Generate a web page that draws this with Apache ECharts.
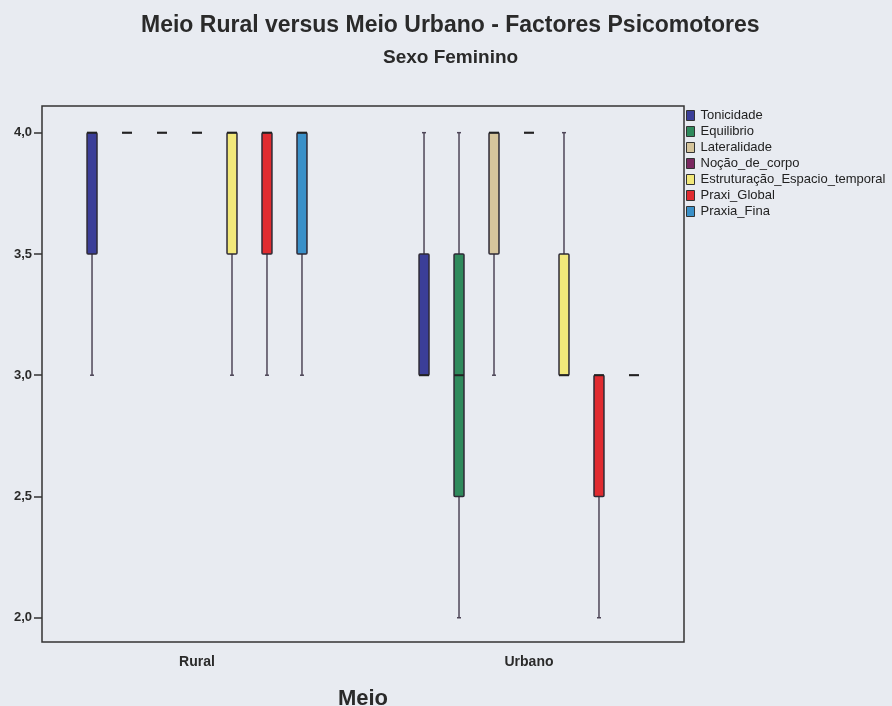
<!DOCTYPE html>
<html>
<head>
<meta charset="utf-8">
<script src="https://cdn.jsdelivr.net/npm/echarts@6/dist/echarts.min.js"></script>
<style>
	html, body { margin: 0; padding: 0; background: #e8ebf1; }
	#main { width: 892px; height: 706px; }
</style>
</head>
<body>
<div id="main"></div>
<script>
// categorias do eixo x
var meios = ['Rural', 'Urbano'];
// factores (series)
var factores = ['Tonicidade', 'Equilibrio', 'Lateralidade', 'Noção_de_corpo',
	'Estruturação_Espacio_temporal', 'Praxi_Global', 'Praxia_Fina'];
var cores = ['#3b3e98', '#2f8a5c', '#d6c59c', '#7a2860', '#f2e87a', '#e02b30', '#3a90c8'];
// [min, Q1, mediana, Q3, max] por meio
var tonicidade = [[3, 3.5, 4, 4, 4], [3, 3, 3, 3.5, 4]];
var equilibrio = [[4, 4, 4, 4, 4], [2, 2.5, 3, 3.5, 4]];
var lateralidade = [[4, 4, 4, 4, 4], [3, 3.5, 4, 4, 4]];
var nocaoCorpo = [[4, 4, 4, 4, 4], [4, 4, 4, 4, 4]];
var estruturacao = [[3, 3.5, 4, 4, 4], [3, 3, 3, 3.5, 4]];
var praxiGlobal = [[3, 3.5, 4, 4, 4], [2, 2.5, 3, 3, 3]];
var praxiaFina = [[3, 3.5, 4, 4, 4], [3, 3, 3, 3, 3]];
var dados = [tonicidade, equilibrio, lateralidade, nocaoCorpo, estruturacao, praxiGlobal, praxiaFina];
// marcas do eixo y
var yTicks = [2.0, 2.5, 3.0, 3.5, 4.0];

var myChart = echarts.init(document.getElementById('main'));

//desenha uma caixa (boxplot) deslocada conforme o indice da serie
function caixa(idx) {
	return function (params, api) {
		var cat = api.value(0);
		var band = api.size([1, 0])[0];
		var x = api.coord([cat, 0])[0] + (idx - 3) * band * 0.1054;
		var w = band * 0.03;
		var yMin = api.coord([cat, api.value(1)])[1];
		var yQ1 = api.coord([cat, api.value(2)])[1];
		var yMed = api.coord([cat, api.value(3)])[1];
		var yQ3 = api.coord([cat, api.value(4)])[1];
		var yMax = api.coord([cat, api.value(5)])[1];
		var risco = { stroke: '#4e4658', lineWidth: 1.5 };
		var filhos = [];
		if (yMax < yQ3) {
			filhos.push({ type: 'line', shape: { x1: x, y1: yQ3, x2: x, y2: yMax }, style: risco });
			filhos.push({ type: 'line', shape: { x1: x - 2, y1: yMax, x2: x + 2, y2: yMax }, style: risco });
		}
		if (yMin > yQ1) {
			filhos.push({ type: 'line', shape: { x1: x, y1: yQ1, x2: x, y2: yMin }, style: risco });
			filhos.push({ type: 'line', shape: { x1: x - 2, y1: yMin, x2: x + 2, y2: yMin }, style: risco });
		}
		filhos.push({
			type: 'rect',
			shape: { x: x - w / 2, y: yQ3, width: w, height: yQ1 - yQ3, r: 1 },
			style: { fill: cores[idx], stroke: '#2e2a36', lineWidth: 1.5 }
		});
		filhos.push({
			type: 'line',
			shape: { x1: x - w / 2, y1: yMed, x2: x + w / 2, y2: yMed },
			style: { stroke: '#222', lineWidth: 2 }
		});
		return { type: 'group', children: filhos };
	};
}

var series = [];
for (let i = 0; i < factores.length; i++) {
	series.push({
		name: factores[i],
		type: 'custom',
		xAxisIndex: 1,
		yAxisIndex: 1,
		itemStyle: { color: cores[i] },
		encode: { x: 0, y: [1, 2, 3, 4, 5] },
		renderItem: caixa(i),
		data: meios.map(function (m, j) { return [m].concat(dados[i][j]); })
	});
}

var option = {
	backgroundColor: '#e8ebf1',
	animation: false,
	title: [{
		text: 'Meio Rural versus Meio Urbano - Factores Psicomotores',
		left: 141,
		top: 14,
		padding: 0,
		textStyle: { fontFamily: 'Liberation Sans', fontSize: 23, fontWeight: 'bold', color: '#2a2a2a' }
	}, {
		text: 'Sexo Feminino',
		left: 383,
		top: 48,
		padding: 0,
		textStyle: { fontFamily: 'Liberation Sans', fontSize: 19, fontWeight: 'bold', color: '#2a2a2a' }
	}],
	legend: {
		orient: 'vertical',
		left: 686,
		top: 109,
		padding: 0,
		itemWidth: 8,
		itemHeight: 10,
		itemGap: 3,
		icon: 'rect',
		itemStyle: { borderColor: '#333', borderWidth: 1 },
		textStyle: { fontFamily: 'Liberation Sans', fontSize: 13, color: '#222', lineHeight: 13, padding: [0, 0, 0, 1] },
		data: factores
	},
	grid: [
		{ left: 42, top: 106, width: 642, height: 536, outerBoundsMode: 'none', show: true, borderColor: '#333', borderWidth: 1.5, backgroundColor: 'transparent' },
		{ left: 31, top: 106, width: 664, height: 536, outerBoundsMode: 'none' }
	],
	xAxis: [{
		gridIndex: 0,
		type: 'category',
		data: meios,
		show: false
	}, {
		gridIndex: 1,
		type: 'category',
		data: meios,
		boundaryGap: true,
		axisLine: { show: false },
		axisTick: { alignWithLabel: true, length: 8, lineStyle: { color: '#333', width: 1.5 } },
		axisLabel: { margin: 13, fontFamily: 'Liberation Sans', fontSize: 14, fontWeight: 'bold', color: '#2a2a2a' },
		name: 'Meio',
		nameLocation: 'middle',
		nameGap: 46,
		nameTextStyle: { fontFamily: 'Liberation Sans', fontSize: 22, fontWeight: 'bold', color: '#2a2a2a' }
	}],
	yAxis: [{
		gridIndex: 0,
		type: 'value',
		min: 1.9,
		max: 4.11,
		axisLine: { show: false },
		splitLine: { show: false },
		axisTick: { show: true, length: 8, customValues: yTicks, lineStyle: { color: '#333', width: 1.5 } },
		axisLabel: {
			customValues: yTicks,
			margin: 10,
			fontFamily: 'Liberation Sans',
			fontSize: 13,
			fontWeight: 'bold',
			color: '#2a2a2a',
			formatter: function (v) { return v.toFixed(1).replace('.', ','); }
		}
	}, {
		gridIndex: 1,
		type: 'value',
		min: 1.9,
		max: 4.11,
		show: false
	}],
	series: series
};

myChart.setOption(option);
</script>
</body>
</html>
